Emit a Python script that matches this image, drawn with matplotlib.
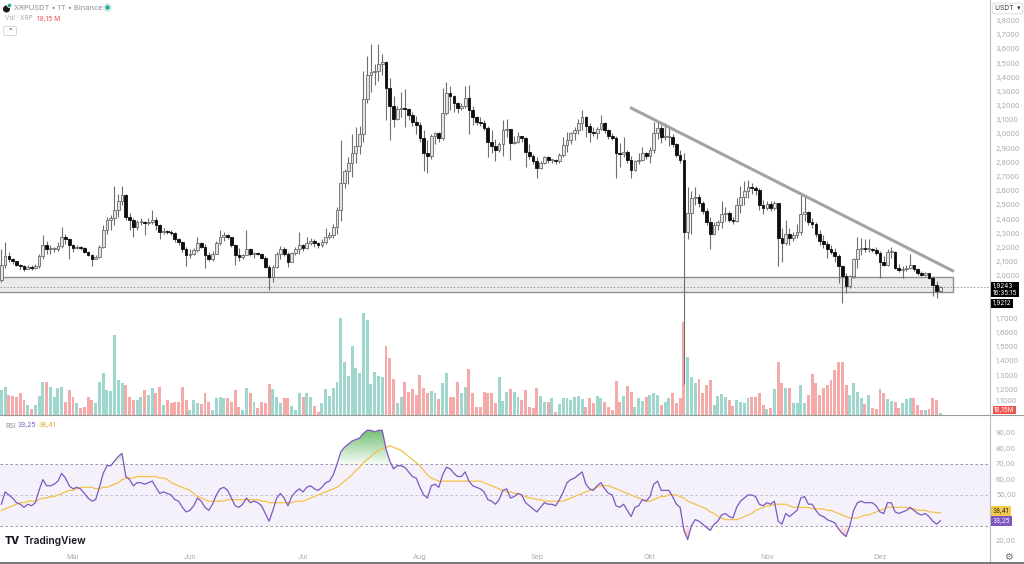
import matplotlib
matplotlib.use("Agg")
import matplotlib.pyplot as plt
import numpy as np
from matplotlib.transforms import blended_transform_factory
from matplotlib.patches import Rectangle, FancyBboxPatch, Circle
from matplotlib.lines import Line2D
from matplotlib.colors import LinearSegmentedColormap
from matplotlib.path import Path

plt.rcParams['font.family'] = ['Inter', 'DejaVu Sans']

# ---------------- data (daily candles, index 0 = first visible day) ----------------
first_open = 1.975
closes = [
    2.08, 2.14, 2.125, 2.105, 2.08, 2.07, 2.055, 2.065, 2.06, 2.07,
    2.14, 2.22, 2.19, 2.19, 2.195, 2.215, 2.28, 2.26, 2.22, 2.20,
    2.205, 2.20, 2.175, 2.15, 2.125, 2.135, 2.21, 2.33, 2.40, 2.41,
    2.47, 2.53, 2.575, 2.42, 2.40, 2.35, 2.38, 2.38, 2.375, 2.385,
    2.40, 2.36, 2.31, 2.32, 2.315, 2.305, 2.26, 2.245, 2.19, 2.15,
    2.16, 2.185, 2.233, 2.21, 2.15, 2.12, 2.16, 2.233, 2.28, 2.29,
    2.275, 2.22, 2.15, 2.135, 2.15, 2.19, 2.155, 2.165, 2.16, 2.127,
    2.068, 1.998, 2.064, 2.158, 2.19, 2.16, 2.104, 2.162, 2.19, 2.221,
    2.20, 2.233, 2.252, 2.235, 2.22, 2.24, 2.28, 2.29, 2.35, 2.468,
    2.66, 2.74, 2.80, 2.87, 2.92, 3.00, 3.25, 3.42, 3.44, 3.45,
    3.50, 3.51, 3.33, 3.20, 3.11, 3.18, 3.19, 3.18, 3.14, 3.09,
    3.07, 2.975, 2.87, 2.845, 2.99, 3.01, 2.975, 3.15, 3.29, 3.27,
    3.22, 3.19, 3.20, 3.26, 3.17, 3.12, 3.09, 3.08, 3.045, 2.95,
    2.92, 2.89, 2.935, 3.03, 3.04, 2.94, 2.95, 2.99, 2.975, 2.88,
    2.845, 2.81, 2.765, 2.80, 2.84, 2.82, 2.82, 2.81, 2.855, 2.926,
    2.96, 3.008, 3.03, 3.08, 3.126, 3.06, 3.02, 3.01, 3.04, 3.08,
    3.03, 2.99, 2.975, 2.87, 2.86, 2.88, 2.82, 2.75, 2.81, 2.82,
    2.867, 2.85, 2.89, 3.01, 3.044, 2.98, 2.985, 2.985, 2.93, 2.855,
    2.82, 2.31, 2.45, 2.55, 2.56, 2.52, 2.46, 2.38, 2.30, 2.36,
    2.38, 2.44, 2.45, 2.40, 2.39, 2.50, 2.56, 2.60, 2.63, 2.62,
    2.61, 2.50, 2.48, 2.51, 2.48, 2.515, 2.27, 2.235, 2.30, 2.27,
    2.29, 2.31, 2.44, 2.455, 2.38, 2.37, 2.30, 2.25, 2.225, 2.19,
    2.175, 2.14, 2.07, 2.00, 1.93, 2.00, 2.12, 2.19, 2.20, 2.19,
    2.19, 2.185, 2.165, 2.10, 2.08, 2.17, 2.17, 2.06, 2.045, 2.055,
    2.06, 2.08, 2.05, 2.025, 2.01, 2.02, 1.99, 1.94, 1.895, 1.924,
]
highs = [
    2.19, 2.245, 2.175, 2.13, 2.11, 2.09, 2.08, 2.08, 2.08, 2.09,
    2.16, 2.29, 2.25, 2.22, 2.21, 2.24, 2.35, 2.30, 2.27, 2.23,
    2.22, 2.215, 2.21, 2.18, 2.16, 2.15, 2.22, 2.36, 2.42, 2.43,
    2.64, 2.58, 2.64, 2.58, 2.45, 2.41, 2.40, 2.41, 2.39, 2.41,
    2.47, 2.42, 2.37, 2.34, 2.33, 2.33, 2.31, 2.27, 2.25, 2.21,
    2.19, 2.20, 2.28, 2.24, 2.23, 2.17, 2.18, 2.25, 2.327, 2.315,
    2.30, 2.28, 2.23, 2.20, 2.16, 2.327, 2.20, 2.17, 2.17, 2.165,
    2.14, 2.08, 2.08, 2.17, 2.214, 2.209, 2.17, 2.17, 2.21, 2.315,
    2.23, 2.275, 2.27, 2.26, 2.24, 2.26, 2.339, 2.31, 2.37, 2.49,
    2.96, 2.76, 2.84, 3.00, 3.05, 3.06, 3.45, 3.55, 3.64, 3.50,
    3.64, 3.57, 3.52, 3.40, 3.27, 3.20, 3.30, 3.32, 3.19, 3.16,
    3.13, 3.09, 3.03, 2.96, 3.00, 3.02, 3.02, 3.33, 3.37, 3.34,
    3.28, 3.23, 3.22, 3.34, 3.35, 3.20, 3.13, 3.12, 3.10, 3.06,
    3.03, 2.97, 2.95, 3.10, 3.11, 3.04, 2.99, 3.02, 2.99, 2.98,
    2.93, 2.86, 2.84, 2.81, 2.85, 2.85, 2.83, 2.83, 2.87, 2.985,
    3.02, 3.02, 3.05, 3.11, 3.17, 3.13, 3.08, 3.05, 3.05, 3.14,
    3.09, 3.04, 3.01, 2.99, 2.94, 2.98, 2.89, 2.85, 2.82, 2.87,
    2.91, 2.88, 2.91, 3.09, 3.09, 3.07, 3.08, 3.05, 3.00, 2.94,
    2.89, 2.87, 2.63, 2.60, 2.63, 2.58, 2.53, 2.48, 2.42, 2.38,
    2.40, 2.53, 2.49, 2.46, 2.42, 2.55, 2.64, 2.67, 2.68, 2.66,
    2.64, 2.62, 2.54, 2.53, 2.53, 2.53, 2.52, 2.34, 2.40, 2.34,
    2.31, 2.37, 2.57, 2.56, 2.46, 2.41, 2.38, 2.33, 2.29, 2.25,
    2.22, 2.20, 2.16, 2.08, 2.02, 2.01, 2.13, 2.28, 2.27, 2.26,
    2.26, 2.20, 2.21, 2.18, 2.14, 2.19, 2.21, 2.18, 2.09, 2.07,
    2.08, 2.16, 2.08, 2.06, 2.04, 2.03, 2.02, 2.00, 1.965, 1.935,
]
lows = [
    1.96, 2.06, 2.10, 2.09, 2.07, 2.05, 2.04, 2.05, 2.045, 2.05,
    2.06, 2.12, 2.16, 2.16, 2.17, 2.18, 2.20, 2.23, 2.12, 2.17,
    2.19, 2.185, 2.165, 2.14, 2.07, 2.12, 2.13, 2.20, 2.30, 2.33,
    2.36, 2.42, 2.50, 2.40, 2.33, 2.28, 2.33, 2.36, 2.29, 2.36,
    2.37, 2.33, 2.26, 2.30, 2.30, 2.29, 2.24, 2.22, 2.17, 2.07,
    2.13, 2.15, 2.17, 2.20, 2.057, 2.11, 2.11, 2.16, 2.22, 2.25,
    2.26, 2.21, 2.08, 2.11, 2.12, 2.15, 2.14, 2.13, 2.15, 2.12,
    2.06, 1.904, 1.96, 2.06, 2.12, 2.14, 2.068, 2.10, 2.15, 2.16,
    2.18, 2.19, 2.22, 2.21, 2.20, 2.21, 2.23, 2.26, 2.27, 2.30,
    2.39, 2.62, 2.65, 2.70, 2.80, 2.86, 2.95, 3.22, 3.30, 3.35,
    3.38, 3.42, 3.10, 2.96, 3.05, 3.10, 3.12, 3.05, 3.10, 3.06,
    3.00, 2.95, 2.74, 2.725, 2.83, 2.93, 2.95, 2.96, 3.14, 3.17,
    3.16, 3.15, 3.17, 3.19, 3.00, 3.07, 3.07, 3.06, 3.03, 2.84,
    2.87, 2.81, 2.88, 2.85, 2.98, 2.82, 2.93, 2.94, 2.95, 2.77,
    2.83, 2.79, 2.69, 2.76, 2.79, 2.80, 2.80, 2.79, 2.80, 2.84,
    2.88, 2.93, 2.96, 3.00, 3.03, 2.98, 2.95, 2.99, 2.97, 3.03,
    3.01, 2.97, 2.96, 2.69, 2.77, 2.84, 2.80, 2.69, 2.74, 2.79,
    2.81, 2.83, 2.80, 2.87, 2.97, 2.94, 2.96, 2.92, 2.91, 2.84,
    2.80, 1.24, 2.26, 2.30, 2.50, 2.49, 2.44, 2.36, 2.19, 2.29,
    2.33, 2.34, 2.39, 2.38, 2.37, 2.38, 2.45, 2.50, 2.55, 2.58,
    2.57, 2.47, 2.44, 2.47, 2.46, 2.47, 2.07, 2.10, 2.22, 2.22,
    2.25, 2.27, 2.29, 2.39, 2.36, 2.34, 2.28, 2.22, 2.20, 2.13,
    2.16, 2.10, 1.95, 1.81, 1.88, 1.92, 1.99, 2.06, 2.15, 2.17,
    2.17, 2.17, 2.15, 1.99, 2.07, 2.07, 2.13, 2.05, 2.03, 1.99,
    2.04, 2.05, 2.04, 2.01, 2.00, 2.00, 1.98, 1.86, 1.845, 1.89,
]
volumes_m = [
    200, 226, 160, 152, 146, 176, 120, 80, 46, 80,
    152, 266, 266, 222, 146, 214, 226, 106, 200, 146,
    94, 54, 62, 146, 120, 94, 266, 334, 200, 194,
    640, 280, 254, 240, 146, 120, 120, 146, 200, 160,
    214, 174, 222, 80, 120, 94, 106, 106, 226, 120,
    40, 120, 96, 88, 176, 104, 40, 134, 146, 134,
    134, 104, 200, 66, 40, 214, 174, 106, 54, 106,
    98, 248, 206, 146, 98, 134, 134, 72, 40, 176,
    146, 176, 146, 72, 26, 98, 206, 152, 214, 262,
    774, 422, 312, 552, 374, 334, 814, 760, 246, 346,
    312, 306, 552, 454, 286, 94, 146, 266, 186, 206,
    160, 320, 214, 174, 192, 178, 126, 254, 334, 146,
    142, 266, 174, 226, 366, 178, 66, 66, 186, 174,
    178, 94, 306, 114, 186, 206, 186, 142, 120, 200,
    66, 54, 214, 152, 106, 106, 134, 26, 88, 138,
    138, 120, 146, 152, 126, 66, 134, 94, 152, 134,
    106, 66, 40, 274, 106, 152, 232, 186, 66, 134,
    112, 146, 160, 174, 160, 80, 106, 134, 174, 98,
    134, 746, 466, 306, 258, 286, 174, 240, 280, 80,
    152, 168, 146, 120, 72, 120, 106, 94, 134, 146,
    146, 174, 80, 46, 54, 206, 426, 254, 214, 214,
    94, 94, 240, 94, 160, 328, 254, 160, 214, 240,
    280, 360, 426, 426, 240, 160, 254, 186, 134, 88,
    160, 54, 46, 206, 178, 126, 112, 106, 54, 94,
    126, 134, 134, 80, 40, 40, 46, 134, 120, 18.15,
]
rsi = [
    44, 52, 50, 48, 45, 44, 42, 44, 43, 45,
    53, 60, 56, 56, 57, 59, 64, 61, 56, 54,
    55, 54, 51, 48, 46, 47, 55, 64, 69, 69,
    72, 75, 77, 62, 60, 56, 58, 58, 57, 58,
    59, 55, 51, 52, 51, 50, 47, 46, 42, 39,
    40, 43, 48, 46, 42, 40, 44, 50, 54, 55,
    53, 48, 43, 42, 44, 48, 45, 46, 45, 43,
    38, 33, 40, 48, 51, 48, 43, 49, 52, 54,
    52, 55, 56, 54, 53, 55, 58, 59, 63, 70,
    78, 81, 83, 85, 86, 87, 90, 92, 92, 91,
    92, 92, 80, 72, 67, 69, 69, 68, 65, 62,
    61, 55, 50, 48, 56, 57, 55, 63, 68, 67,
    64, 62, 62, 65, 59, 56, 55, 54, 52, 47,
    46, 44, 47, 53, 54, 48, 49, 51, 50, 45,
    43, 41, 39, 42, 45, 44, 44, 43, 47, 52,
    58, 60, 61, 63, 65, 57, 54, 53, 56, 58,
    54, 51, 50, 43, 42, 44, 40, 36, 42, 43,
    47, 46, 49, 57, 59, 53, 53, 53, 49, 44,
    42, 27, 21, 30, 34, 33, 31, 29, 27, 31,
    33, 37, 38, 36, 35, 42, 46, 48, 50, 50,
    49, 44, 43, 45, 44, 46, 33, 31, 38, 36,
    38, 40, 48, 49, 44, 44, 40, 37, 36, 34,
    33, 32, 28, 25, 23, 30, 40, 45, 46, 45,
    45, 45, 43, 39, 38, 45, 45, 39, 38, 39,
    40, 42, 40, 38, 37, 38, 36, 33, 31, 33.25,
]
rsi_ma = [
    40, 41, 42, 43, 44, 45, 45, 46, 46, 46,
    47, 48, 48, 49, 49, 50, 51, 52, 53, 53,
    54, 55, 55, 55, 55, 54, 54, 55, 55, 56,
    57, 58, 60, 61, 61, 61, 62, 62, 62, 62,
    62, 62, 61, 61, 60, 58, 57, 56, 55, 54,
    53, 51, 49, 48, 47, 46, 46, 46, 46, 46,
    47, 47, 47, 47, 47, 47, 47, 47, 47, 46,
    46, 45, 45, 45, 45, 45, 45, 45, 46, 46,
    46, 47, 48, 49, 50, 51, 52, 53, 54, 55,
    57, 59, 61, 63, 66, 68, 71, 73, 75, 77,
    79, 80, 81, 82, 81, 80, 79, 77, 75, 73,
    71, 69, 66, 63, 61, 60, 59, 59, 59, 59,
    59, 59, 59, 59, 59, 59, 59, 59, 58, 57,
    56, 55, 54, 53, 52, 52, 51, 51, 50, 49,
    48, 48, 47, 47, 46, 46, 46, 46, 46, 46,
    47, 48, 49, 50, 51, 52, 53, 54, 55, 56,
    56, 56, 55, 54, 53, 52, 51, 50, 49, 48,
    47, 46, 46, 47, 48, 49, 49, 50, 50, 50,
    49, 48, 46, 45, 44, 43, 42, 41, 39, 38,
    36, 35, 34, 34, 34, 34, 35, 36, 37, 38,
    40, 41, 42, 43, 43, 44, 44, 44, 44, 43,
    42, 42, 42, 42, 42, 41, 41, 41, 41, 40,
    40, 39, 38, 37, 36, 35, 35, 35, 36, 37,
    37, 38, 39, 40, 41, 42, 42, 42, 42, 42,
    42, 41, 41, 40, 40, 40, 39, 39, 38.5, 38.41,
]
month_labels = ["Mai", "Jun", "Jul", "Aug", "Sep", "Okt", "Nov", "Dez"]
month_idx = [19, 50, 80, 111, 142, 172, 203, 233]
trend_idx = [166.97, 252.36]
trend_price = [3.187, 2.038]
zone_low, zone_high = 1.893, 1.998
last_price = 1.9243

# ---------------- layout ----------------
W, H = 1024, 564
fig = plt.figure(figsize=(W / 100, H / 100), dpi=100)
fig.patch.set_facecolor("white")
PR = 990  # right edge of plotting area in px


def rect(x0, y0, x1, y1):
    return [x0 / W, 1 - y1 / H, (x1 - x0) / W, (y1 - y0) / H]


def fy(py):
    return 1 - py / H


ax_vol = fig.add_axes(rect(0, 0, PR, 415))
ax = fig.add_axes(rect(0, 0, PR, 415))
ax_rsi = fig.add_axes(rect(0, 415, PR, 548))
ax_vol.set_zorder(1)
ax.set_zorder(2)
ax_rsi.set_zorder(1)
for a in (ax_vol, ax, ax_rsi):
    a.set_axis_off()

XL = (-0.36, 262.17)
ax.set_xlim(XL)
ax.set_ylim(1.0225, 3.948)
ax_vol.set_xlim(XL)
ax_vol.set_ylim(0, 3320)
ax_rsi.set_xlim(XL)
ax_rsi.set_ylim(15.58, 101.95)

idx = np.arange(len(closes))
c = np.array(closes)
o = np.array([first_open] + closes[:-1])
hi = np.array(highs)
lo = np.array(lows)
up = c >= o

# volume
vcol = np.where(up, "#9fd6ce", "#f4aaa8")
ax_vol.bar(idx, volumes_m, width=0.78, color=vcol, linewidth=0)

# zone
ax.add_patch(Rectangle((-1, zone_low), 253.4, zone_high - zone_low,
                       facecolor="#ebebeb", edgecolor="#8f8f8f", lw=1.0, zorder=1))
ax.axhline(last_price, color="#8f9299", lw=0.6, ls=(0, (2, 2)), zorder=1.5)

# candles
ax.vlines(idx, lo, hi, color="#6e6e6e", lw=0.8, zorder=3)
bb = np.minimum(o, c)
bh = np.maximum(np.abs(c - o), 0.007)
ax.bar(idx[up], bh[up], bottom=bb[up], width=0.72, color="#e4e4e4",
       edgecolor="#6a6a6a", lw=0.6, zorder=4)
ax.bar(idx[~up], bh[~up], bottom=bb[~up], width=0.72, color="#0d0d0d",
       edgecolor="#0d0d0d", lw=0.6, zorder=4)

# trendline
ax.plot(trend_idx, trend_price, color="#a3a3a3", lw=2.2, solid_capstyle="round", zorder=5)

# RSI pane
r = np.array(rsi, dtype=float)
ax_rsi.axhspan(30, 70, color="#7e57c2", alpha=0.08, lw=0)
ax_rsi.axhline(70, color="#8d8a99", lw=0.6, ls=(0, (3, 3)))
ax_rsi.axhline(30, color="#8d8a99", lw=0.6, ls=(0, (3, 3)))
ax_rsi.axhline(50, color="#b7b3c4", lw=0.6, ls=(0, (3, 3)))

g_cmap = LinearSegmentedColormap.from_list(
    "g", [(0.30, 0.69, 0.31, 0.05), (0.30, 0.69, 0.31, 0.9)])
r_cmap = LinearSegmentedColormap.from_list(
    "r", [(0.94, 0.33, 0.31, 0.05), (0.94, 0.33, 0.31, 0.6)])
grad = np.linspace(0, 1, 256).reshape(-1, 1)

poly = ax_rsi.fill_between(idx, r, 70, where=r > 70, interpolate=True,
                           facecolor="none", edgecolor="none")
paths = poly.get_paths()
if paths:
    cp = Path.make_compound_path(*paths)
    im = ax_rsi.imshow(grad, extent=[XL[0], XL[1], 70, 95], origin="lower",
                       aspect="auto", cmap=g_cmap, zorder=2)
    im.set_clip_path(cp, transform=ax_rsi.transData)
poly2 = ax_rsi.fill_between(idx, r, 30, where=r < 30, interpolate=True,
                            facecolor="none", edgecolor="none")
paths2 = poly2.get_paths()
if paths2:
    cp2 = Path.make_compound_path(*paths2)
    im2 = ax_rsi.imshow(grad[::-1], extent=[XL[0], XL[1], 18, 30], origin="lower",
                        aspect="auto", cmap=r_cmap, zorder=2)
    im2.set_clip_path(cp2, transform=ax_rsi.transData)
ax_rsi.set_xlim(XL)
ax_rsi.set_ylim(15.58, 101.95)

ax_rsi.plot(idx, rsi_ma, color="#f3c24a", lw=0.9, zorder=3)
ax_rsi.plot(idx, r, color="#7e57c2", lw=0.9, zorder=4)

# ---------------- frame lines ----------------
fig.add_artist(Line2D([0, 1], [fy(415)] * 2, color="#9a9a9a", lw=0.8))
fig.add_artist(Line2D([PR / W] * 2, [0, 1], color="#b8bbc2", lw=0.8))
fig.add_artist(Line2D([0, 1], [fy(563)] * 2, color="#777777", lw=1.4))

# ---------------- axis labels ----------------
lab_kw = dict(fontsize=5.2, color="#a9acb4", va="center", ha="left")
tp = blended_transform_factory(fig.transFigure, ax.transData)
for k in range(12, 39):
    p = k / 10
    if k in (18, 19):
        continue
    ax.text(996 / W, p, f"{p:.4f}".replace(".", ","), transform=tp, **lab_kw)
fig.text(996 / W, fy(401), "1,1000", **lab_kw)
tr = blended_transform_factory(fig.transFigure, ax_rsi.transData)
for v in (90, 80, 70, 60, 50, 20):
    ax_rsi.text(996 / W, v, f"{v:.2f}".replace(".", ","), transform=tr, **lab_kw)

tm = blended_transform_factory(ax_rsi.transData, fig.transFigure)
for lab, ii in zip(month_labels, month_idx):
    ax_rsi.text(ii, fy(557), lab, transform=tm, fontsize=5.2, color="#a9acb4",
                ha="center", va="center")

# right-axis value tags
fig.text(993 / W, fy(289.5), "1,9243\n16:35:15", fontsize=4.6, color="white",
         va="center", ha="left", linespacing=1.05,
         bbox=dict(boxstyle="square,pad=0.25", fc="black", ec="none"))
fig.text(993 / W, fy(303.5), "1,9212", fontsize=4.6, color="white", va="center", ha="left",
         bbox=dict(boxstyle="square,pad=0.25", fc="black", ec="none"))
fig.text(994 / W, fy(410.3), "18,15M", fontsize=4.6, color="white", va="center", ha="left",
         bbox=dict(boxstyle="square,pad=0.18", fc="#ef5350", ec="none"))
fig.text(993 / W, fy(511), "38,41", fontsize=4.6, color="#222222", va="center", ha="left",
         bbox=dict(boxstyle="square,pad=0.25", fc="#f5c84f", ec="none"))
fig.text(993 / W, fy(521), "33,25", fontsize=4.6, color="white", va="center", ha="left",
         bbox=dict(boxstyle="square,pad=0.25", fc="#7e57c2", ec="none"))
fig.text(995 / W, fy(8.5), "USDT  \u25be", fontsize=4.8, color="#333333", va="center",
         ha="left", family=["Inter", "DejaVu Sans"],
         bbox=dict(boxstyle="round,pad=0.35,rounding_size=0.25", fc="white", ec="#d6d8de", lw=0.6))
fig.text(1008 / W, fy(557), "\u2699", fontsize=7, color="#6a6d78", va="center", ha="center",
         family=["DejaVu Sans"])

# ---------------- header texts ----------------
fig.add_artist(Circle((6.5 / 100, (H - 9) / 100), 0.035, transform=fig.dpi_scale_trans,
                      fc="#1a1a1a", ec="none"))
fig.add_artist(Circle((9.5 / 100, (H - 5.5) / 100), 0.022, transform=fig.dpi_scale_trans,
                      fc="#26a69a", ec="white", lw=0.5))
fig.text(14 / W, fy(7.5), "XRPUSDT \u2022 1T \u2022 Binance", fontsize=5.4, color="#8c8f98",
         va="center", ha="left")
fig.add_artist(Circle((107.5 / 100, (H - 7.5) / 100), 0.045, transform=fig.dpi_scale_trans,
                      fc="#d4efe9", ec="none"))
fig.add_artist(Circle((107.5 / 100, (H - 7.5) / 100), 0.022, transform=fig.dpi_scale_trans,
                      fc="#26a69a", ec="none"))
fig.text(5 / W, fy(18.5), "Vol \u00b7 XRP", fontsize=4.6, color="#a9acb4", va="center", ha="left")
fig.text(37 / W, fy(18.5), "18,15 M", fontsize=4.8, color="#ef5350", va="center", ha="left")
fig.add_artist(FancyBboxPatch((3.5 / 100, (H - 35.5) / 100), 13 / 100, 9 / 100,
                              boxstyle="round,pad=0,rounding_size=0.02",
                              transform=fig.dpi_scale_trans, fc="white", ec="#cfd2d8", lw=0.6))
fig.text(10 / W, fy(30.5), "^", fontsize=5, color="#333333", va="center", ha="center")

fig.text(5 / W, fy(425.5), "RSI", fontsize=5.0, color="#8c8f98", va="center", ha="left")
fig.text(18 / W, fy(425.5), "33,25", fontsize=5.0, color="#7e57c2", va="center", ha="left")
fig.text(39 / W, fy(425.5), "38,41", fontsize=5.0, color="#e0a92c", va="center", ha="left")

# TradingView mark
fig.text(5 / W, fy(540.5), "TV", fontsize=7.5, color="#131722", va="center", ha="left",
         weight="heavy")
fig.text(24 / W, fy(540.5), "TradingView", fontsize=7.3, color="#131722", va="center",
         ha="left", weight="semibold")

fig.savefig("out.png", dpi=100, facecolor="white")
